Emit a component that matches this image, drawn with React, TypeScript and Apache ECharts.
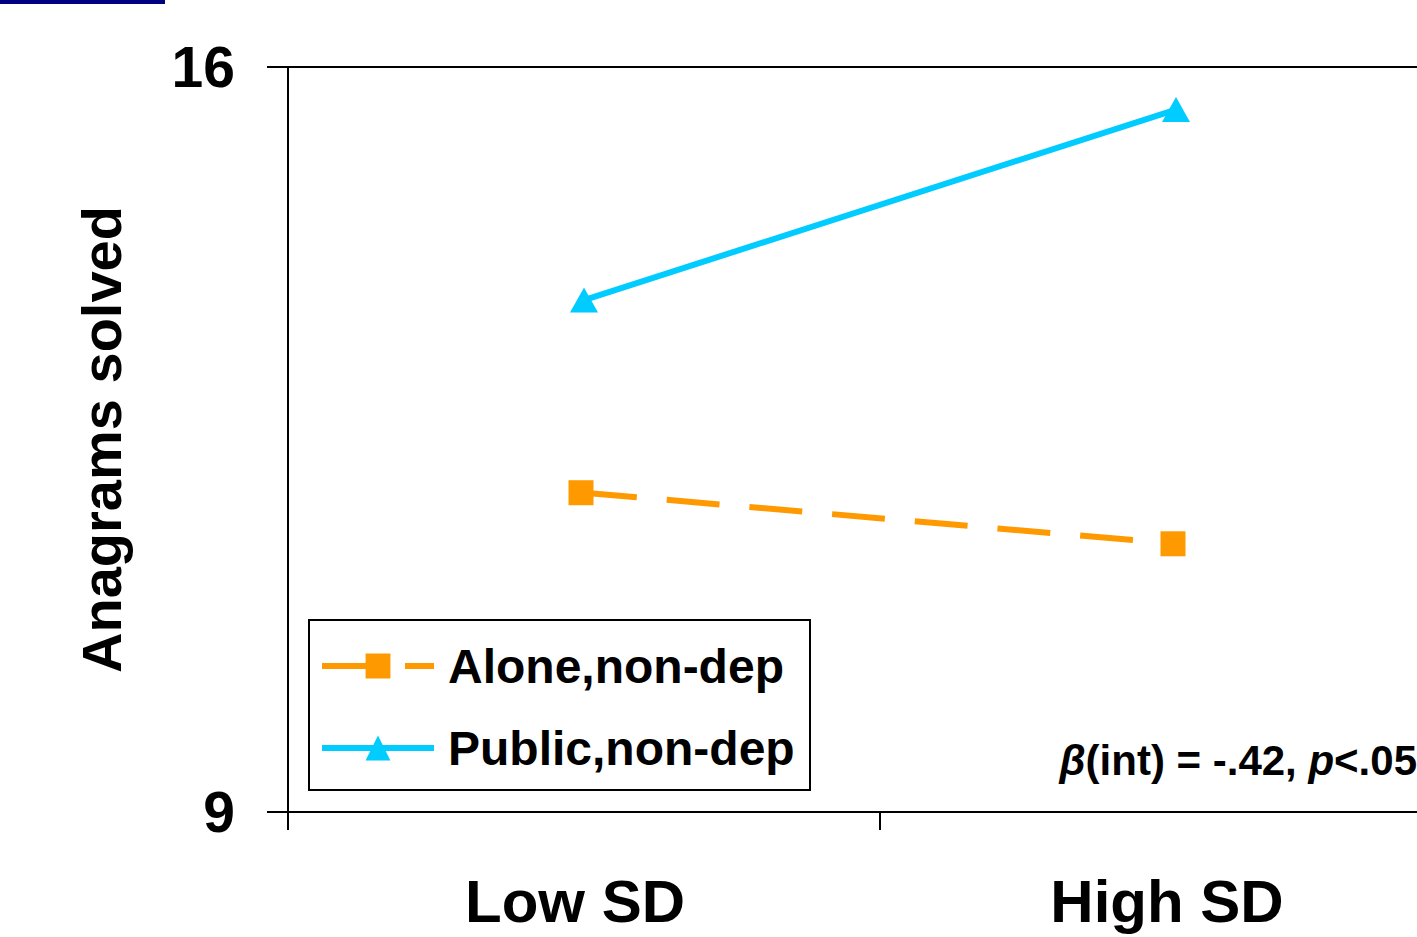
import React, { useEffect, useRef } from "react";
import * as echarts from "echarts";

const categories = ["Low SD", "High SD"];
const aloneNonDep = [12.0, 11.52];
const publicNonDep = [13.81, 15.6];
const yTicks = [9, 16];
const seriesNames = ["Alone,non-dep", "Public,non-dep"];

const FONT = "'Liberation Sans', Arial, Helvetica, sans-serif";

export default function App() {
  const ref = useRef<HTMLDivElement>(null);
  useEffect(() => {
    document.body.style.margin = "0";
    const chart = echarts.init(ref.current!, null, { renderer: "svg" });
    chart.setOption({
      animation: false,
      backgroundColor: "#ffffff",
      textStyle: { fontFamily: FONT },
      grid: { left: 288, top: 67, bottom: 125, right: 0, containLabel: false },
      xAxis: {
        type: "category",
        data: categories,
        boundaryGap: true,
        axisLine: { show: true, lineStyle: { color: "#000", width: 2 } },
        axisTick: { show: true, length: 18, interval: 0, lineStyle: { color: "#000", width: 2 } },
        axisLabel: {
          interval: 0,
          margin: 59,
          fontSize: 60,
          fontWeight: "bold",
          color: "#000",
          fontFamily: FONT,
          padding: [0, 18, 0, 0],
        },
        splitLine: { show: false },
      },
      yAxis: {
        type: "value",
        min: yTicks[0],
        max: yTicks[1],
        interval: yTicks[1] - yTicks[0],
        name: "Anagrams solved",
        nameLocation: "middle",
        nameGap: 159,
        nameTextStyle: { fontSize: 56, fontWeight: "bold", color: "#000", fontFamily: FONT },
        axisLine: { show: true, lineStyle: { color: "#000", width: 2 } },
        axisTick: { show: true, length: 21, lineStyle: { color: "#000", width: 2 } },
        axisLabel: { margin: 53, fontSize: 57, fontWeight: "bold", color: "#000", fontFamily: FONT },
        splitLine: { show: true, lineStyle: { color: "#000", width: 2 } },
      },
      legend: {
        orient: "vertical",
        left: 319,
        top: 641,
        padding: 0,
        itemGap: 32,
        itemWidth: 112,
        itemHeight: 31,
        data: seriesNames,
        lineStyle: { width: 6 },
        textStyle: {
          fontSize: 48,
          fontWeight: "bold",
          color: "#000",
          fontFamily: FONT,
          lineHeight: 50,
          padding: [0, 0, 0, 9],
        },
      },
      graphic: [
        { type: "rect", left: 0, top: 0, shape: { width: 165, height: 4 }, style: { fill: "#000080" } },
        {
          type: "rect",
          shape: { x: 309, y: 620, width: 501, height: 170 },
          style: { fill: "none", stroke: "#000", lineWidth: 2 },
          z: 10,
        },
        {
          type: "text",
          x: 1417,
          y: 781,
          z: 10,
          style: {
            text: "{i|β}{n|(int) = -.42, }{i|p}{n|<.05}",
            align: "right",
            verticalAlign: "bottom",
            rich: {
              i: { fontSize: 42, fontWeight: "bold", fontStyle: "italic", fontFamily: FONT, fill: "#000" },
              n: { fontSize: 42, fontWeight: "bold", fontFamily: FONT, fill: "#000" },
            },
          },
        },
      ],
      series: [
        {
          name: seriesNames[0],
          type: "line",
          data: aloneNonDep,
          symbol: "rect",
          symbolSize: 25,
          symbolOffset: [-3, 0],
          itemStyle: { color: "#FF9900" },
          lineStyle: { color: "#FF9900", width: 6, type: [53, 30] },
        },
        {
          name: seriesNames[1],
          type: "line",
          data: publicNonDep,
          symbol: "triangle",
          symbolSize: [28, 25],
          itemStyle: { color: "#00CCFF" },
          lineStyle: { color: "#00CCFF", width: 6 },
        },
      ],
    });
    return () => chart.dispose();
  }, []);
  return (
    <div style={{ width: 1417, height: 937, overflow: "hidden", position: "relative" }}>
      <div ref={ref} style={{ width: 1472, height: 937 }} />
    </div>
  );
}
